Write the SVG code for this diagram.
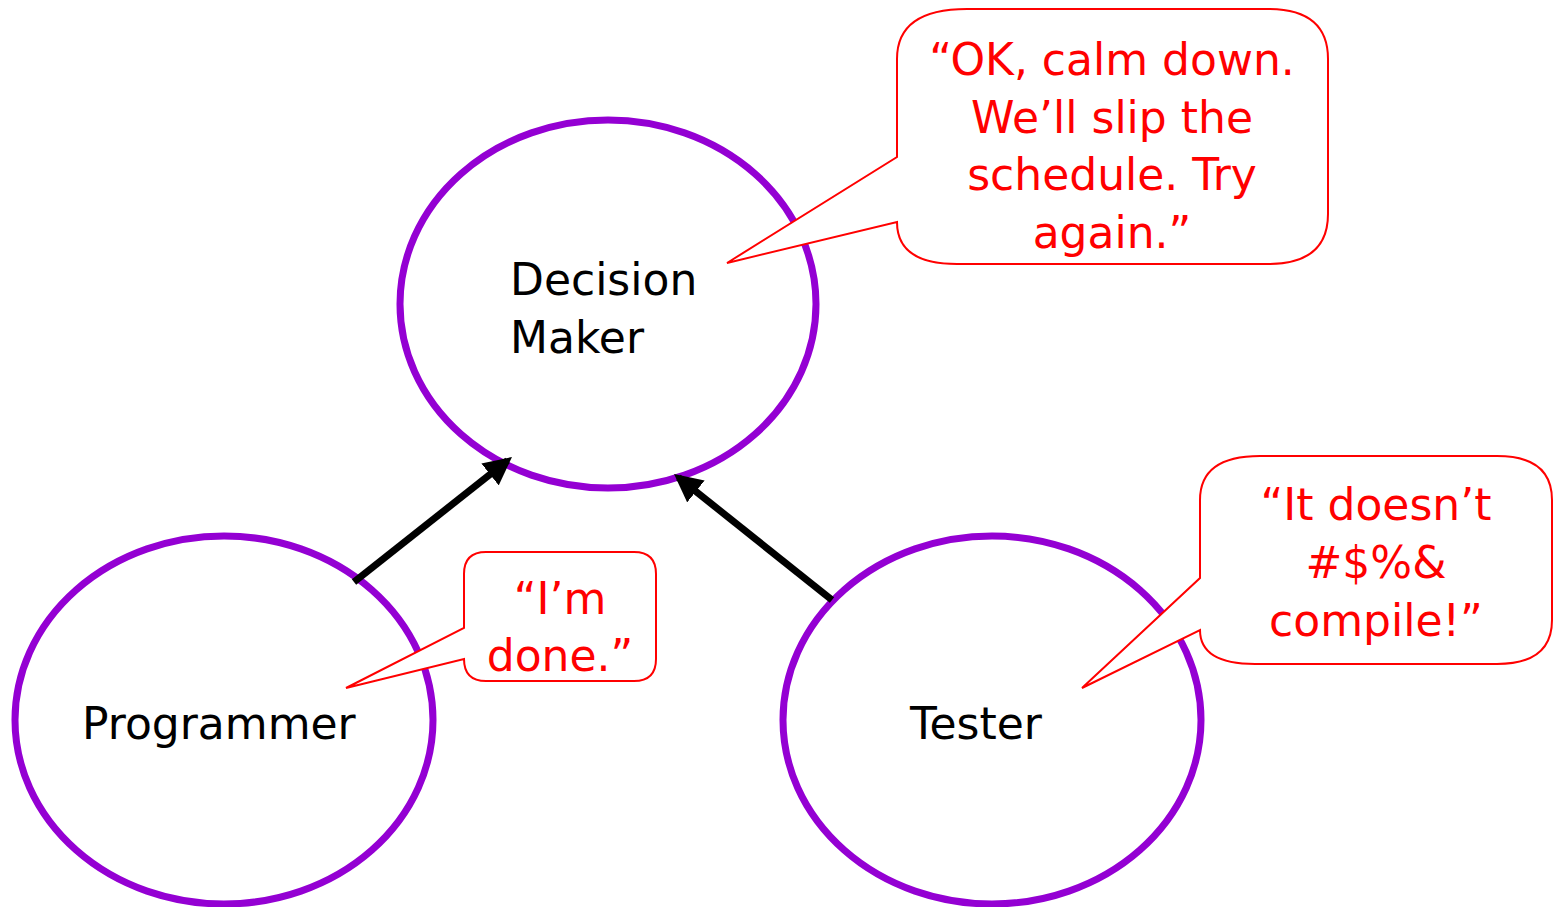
<svg xmlns="http://www.w3.org/2000/svg" width="1557" height="907" viewBox="0 0 1557 907">
<defs>
<style>
.node{fill:none;stroke:#9400D3;stroke-width:7}
.lbl{font-family:"Comic Sans MS","DejaVu Sans",sans-serif;font-size:44px;fill:#000}
.say{font-family:"Comic Sans MS","DejaVu Sans",sans-serif;font-size:44px;fill:#FF0000;text-anchor:middle}
.bub{fill:#fff;stroke:#FF0000;stroke-width:2}
.conn{stroke:#000;stroke-width:7;fill:none}
</style>
<marker id="ah" viewBox="0 0 10 10" refX="8" refY="5" markerWidth="4" markerHeight="4" markerUnits="strokeWidth" orient="auto">
<path d="M0,0 L10,5 L0,10 z" fill="#000"/>
</marker>
</defs>
<rect width="1557" height="907" fill="#fff"/>
<g id="decision-maker">
<ellipse class="node" cx="608" cy="304" rx="208" ry="184"/>
<text class="lbl" x="510" y="295">Decision</text>
<text class="lbl" x="510" y="353">Maker</text>
</g>
<g id="programmer">
<ellipse class="node" cx="224" cy="720" rx="209" ry="184"/>
<text class="lbl" x="82" y="739">Programmer</text>
</g>
<g id="tester">
<ellipse class="node" cx="992" cy="720" rx="209" ry="184"/>
<text class="lbl" x="910" y="739">Tester</text>
</g>
<g id="connectors">
<line class="conn" x1="354" y1="582" x2="507.6" y2="460.5" marker-end="url(#ah)"/>
<line class="conn" x1="832" y1="600" x2="678.4" y2="477.5" marker-end="url(#ah)"/>
</g>
<g id="callout-decision">
<path class="bub" d="M967,9 H1268 Q1328,9 1328,59 V214 Q1328,264 1268,264 H957 Q897,264 897,222 L727,263 L897,157 V59 Q897,9 967,9 Z"/>
<text class="say" x="1112" y="75">“OK, calm down.</text>
<text class="say" x="1112" y="133">We’ll slip the</text>
<text class="say" x="1112" y="190">schedule. Try</text>
<text class="say" x="1112" y="248">again.”</text>
</g>
<g id="callout-programmer">
<path class="bub" d="M486,552 H634 Q656,552 656,574 V659 Q656,681 634,681 H486 Q464,681 464,659 L346,688 L464,628 V574 Q464,552 486,552 Z"/>
<text class="say" x="560" y="614">“I’m</text>
<text class="say" x="560" y="671">done.”</text>
</g>
<g id="callout-tester">
<path class="bub" d="M1260,456 H1497 Q1552,456 1552,500 V620 Q1552,664 1497,664 H1255 Q1200,664 1200,630 L1082,688 L1200,578 V500 Q1200,456 1260,456 Z"/>
<text class="say" x="1376" y="520">“It doesn’t</text>
<text class="say" x="1376" y="578">#$%&amp;</text>
<text class="say" x="1376" y="636">compile!”</text>
</g>
</svg>
